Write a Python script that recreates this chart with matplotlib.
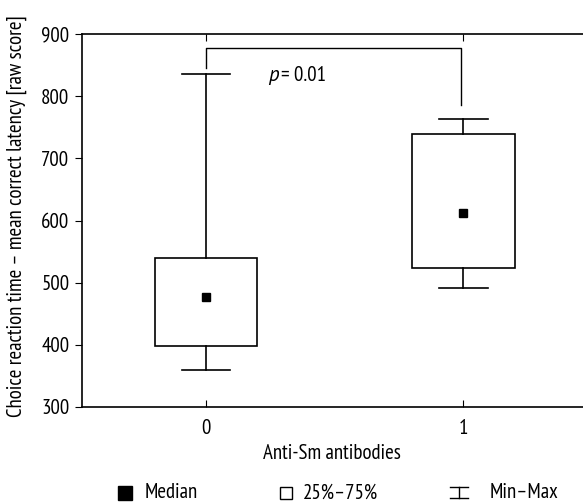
import matplotlib
matplotlib.use("Agg")
import matplotlib.pyplot as plt
from matplotlib.lines import Line2D
from matplotlib.patches import Rectangle

plt.rcParams["font.family"] = ["PT Sans Narrow", "DejaVu Sans"]

groups = [0, 1]
q1 = [398, 524]
q3 = [540, 739]
medians = [477, 612]
mins = [360, 492]
maxs = [836, 763]
p_label = "p"
p_value = "= 0.01"

FS = 15
W, H = 583, 503

fig = plt.figure(figsize=(W / 100, H / 100), dpi=100)
# right spine sits just past the image edge, as in the reference
ax = fig.add_axes([82 / W, 1 - 407 / H, 510 / W, 373 / H])

box_w = 0.4
cap_w = 0.19
for g, lo, hi, med, mn, mx in zip(groups, q1, q3, medians, mins, maxs):
    ax.add_patch(Rectangle((g - box_w / 2, lo), box_w, hi - lo, fill=False,
                           edgecolor="black", linewidth=1.2))
    ax.plot([g, g], [hi, mx], color="black", linewidth=1.2)
    ax.plot([g, g], [mn, lo], color="black", linewidth=1.2)
    ax.plot([g - cap_w / 2, g + cap_w / 2], [mx, mx], color="black", linewidth=1.2)
    ax.plot([g - cap_w / 2, g + cap_w / 2], [mn, mn], color="black", linewidth=1.2)
    ax.plot([g], [med], marker="s", markersize=6, color="black", linestyle="none")

# significance bracket
ax.plot([0, 0, 0.99, 0.99], [845, 877, 877, 786], color="black", linewidth=1.0)
ax.text(0.243, 833, p_label, fontsize=FS, family=["PT Sans", "DejaVu Sans"], style="italic",
        va="center", ha="left")
ax.text(0.293, 833, p_value, fontsize=FS, va="center", ha="left")

ax.set_xlim(-0.482, 1.5)
ax.set_ylim(300, 900)
ax.set_xticks(groups)
ax.set_xticklabels([str(g) for g in groups], fontsize=FS)
ax.set_yticks(range(300, 901, 100))
ax.tick_params(axis="y", direction="out", labelsize=FS, length=5, pad=4)
ax.tick_params(axis="x", direction="in", length=5, top=True, pad=9)
ax.set_xlabel("Anti-Sm antibodies", fontsize=FS, labelpad=4)
ax.xaxis.set_label_coords((332 - 82) / 510, -0.1)
ax.set_ylabel("Choice reaction time \u2013 mean correct latency [raw score]", fontsize=FS)
ax.yaxis.set_label_coords(-(82 - 27) / 510, (407 - 216) / 373)
for s in ax.spines.values():
    s.set_linewidth(1.2)

# legend row along the bottom
y_leg = 1 - 493 / H
fig.add_artist(Line2D([125 / W], [y_leg], marker="s", markersize=9.5, color="black",
                      linestyle="none", transform=fig.transFigure))
fig.text(145 / W, y_leg, "Median", fontsize=FS, va="center")
fig.add_artist(Line2D([286 / W], [y_leg], marker="s", markersize=8.5, markerfacecolor="white",
                      markeredgecolor="black", markeredgewidth=1, linestyle="none",
                      transform=fig.transFigure))
fig.text(303 / W, y_leg, "25%\u201375%", fontsize=FS, va="center")
xc = 459 / W
hw = 9 / W
yt = 1 - 487 / H
yb = 1 - 498 / H
for xs, ys in [([xc - hw, xc + hw], [yt, yt]), ([xc - hw, xc + hw], [yb, yb]), ([xc, xc], [yt, yb])]:
    fig.add_artist(Line2D(xs, ys, color="black", linewidth=1.0, transform=fig.transFigure))
fig.text(490 / W, y_leg, "Min\u2013Max", fontsize=FS, va="center")

fig.savefig("out.png", dpi=100)
